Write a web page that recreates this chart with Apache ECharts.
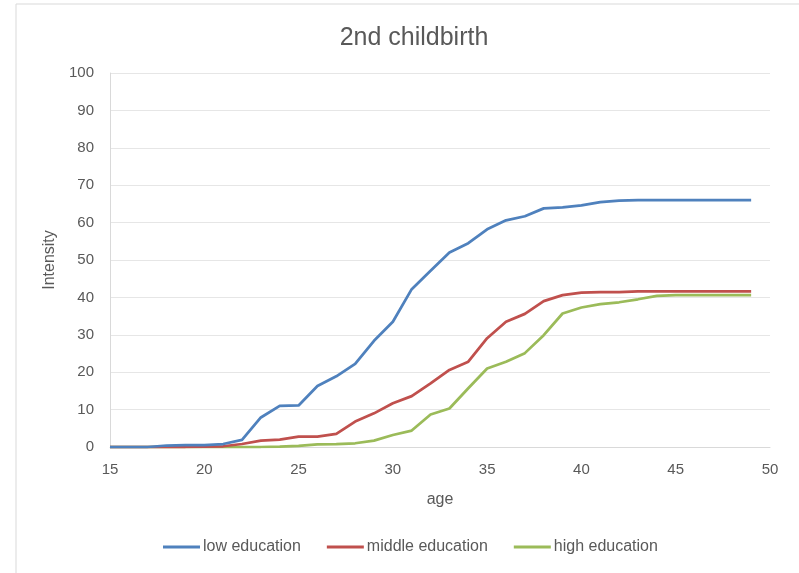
<!DOCTYPE html>
<html>
<head>
<meta charset="utf-8">
<script src="https://cdn.jsdelivr.net/npm/echarts@6/dist/echarts.min.js"></script>
<style>
  html, body { margin: 0; padding: 0; background: #fff; }
  #chart { width: 799px; height: 573px; }
</style>
</head>
<body>
<div id="chart"></div>
<script>
// Age of mother (years)
const ages = [15,16,17,18,19,20,21,22,23,24,25,26,27,28,29,30,31,32,33,34,35,36,37,38,39,40,41,42,43,44,45,46,47,48,49];

// Cumulative intensity of second childbirth by education level
const lowEducation = [0,0,0,0.4,0.5,0.5,0.8,1.9,7.9,11.0,11.1,16.3,18.9,22.2,28.4,33.5,42.2,47.1,52.0,54.5,58.2,60.6,61.7,63.8,64.1,64.6,65.5,65.9,66.0,66.0,66.0,66.0,66.0,66.0,66.0];
const middleEducation = [0,0,0,0,0,0.1,0.2,0.8,1.7,2.0,2.8,2.8,3.5,6.8,9.0,11.7,13.6,17.0,20.6,22.8,29.1,33.5,35.6,39.0,40.6,41.3,41.4,41.4,41.6,41.6,41.6,41.6,41.6,41.6,41.6];
const highEducation = [0,0,0,0,0,0,0,0,0,0.1,0.3,0.7,0.8,1.0,1.7,3.2,4.4,8.7,10.3,15.7,21.0,22.8,25.1,29.9,35.7,37.3,38.2,38.7,39.5,40.4,40.6,40.6,40.6,40.6,40.6];

const seriesNames = ['low education', 'middle education', 'high education'];
const seriesColors = ['#4F81BD', '#C0504D', '#9BBB59'];
const seriesValues = [lowEducation, middleEducation, highEducation];

const textColor = '#595959';
const fontFamily = '"Liberation Sans", Arial, sans-serif';

const chart = echarts.init(document.getElementById('chart'), null, { renderer: 'canvas' });

chart.setOption({
  backgroundColor: '#ffffff',
  animation: false,
  graphic: [{
    type: 'rect',
    shape: { x: 16, y: 4, width: 800, height: 600 },
    style: { fill: 'none', stroke: '#d9d9d9', lineWidth: 1 },
    silent: true
  }],
  title: {
    text: '2nd childbirth',
    left: 409,
    textAlign: 'center',
    top: 21,
    textStyle: { color: textColor, fontSize: 25, fontWeight: 'normal', fontFamily: fontFamily }
  },
  legend: {
    data: seriesNames,
    bottom: 13,
    left: 158,
    icon: 'rect',
    itemWidth: 37,
    itemHeight: 3,
    itemGap: 26,
    textStyle: { color: textColor, fontSize: 16, fontFamily: fontFamily, padding: [0, 0, 0, -2] }
  },
  grid: { left: 110, right: 29, top: 73, bottom: 126 },
  xAxis: {
    type: 'value',
    min: 15,
    max: 50,
    interval: 5,
    name: 'age',
    nameLocation: 'middle',
    nameGap: 45,
    nameTextStyle: { color: textColor, fontSize: 16, fontFamily: fontFamily },
    axisLine: { show: true, lineStyle: { color: '#d9d9d9', width: 1 } },
    axisTick: { show: false },
    splitLine: { show: false },
    axisLabel: { color: textColor, fontSize: 15, margin: 15, fontFamily: fontFamily }
  },
  yAxis: {
    type: 'value',
    min: 0,
    max: 100,
    interval: 10,
    name: 'Intensity',
    nameLocation: 'middle',
    nameGap: 52,
    nameRotate: 90,
    nameTextStyle: { color: textColor, fontSize: 16, fontFamily: fontFamily },
    axisLine: { show: true, lineStyle: { color: '#d9d9d9', width: 1 } },
    axisTick: { show: false },
    splitLine: { show: true, lineStyle: { color: '#e6e6e6', width: 1 } },
    axisLabel: { color: textColor, fontSize: 15, margin: 16, fontFamily: fontFamily }
  },
  series: seriesNames.map((name, i) => ({
    name: name,
    type: 'line',
    data: ages.map((a, j) => [a, seriesValues[i][j]]),
    showSymbol: false,
    symbol: 'none',
    lineStyle: { color: seriesColors[i], width: 2.75 },
    itemStyle: { color: seriesColors[i] },
    z: 3 - i
  }))
});
</script>
</body>
</html>
